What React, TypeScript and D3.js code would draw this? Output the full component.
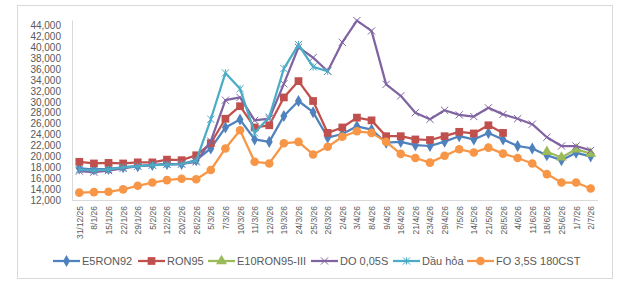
import React, { useEffect, useRef } from 'react';
import * as d3 from 'd3';

const dates = [
  '31/12/25', '8/1/26', '15/1/26', '22/1/26', '29/1/26', '5/2/26', '12/2/26', '20/2/26', '26/2/26',
  '5/3/26', '7/3/26', '10/3/26', '11/3/26', '12/3/26', '19/3/26', '24/3/26', '25/3/26', '26/3/26',
  '2/4/26', '3/4/26', '8/4/26', '9/4/26', '16/4/26', '21/4/26', '23/4/26', '29/4/26', '7/5/26',
  '14/5/26', '21/5/26', '28/5/26', '4/6/26', '11/6/26', '18/6/26', '25/6/26', '1/7/26', '2/7/26',
];

const e5ron92 = [
  17800, 17600, 17700, 18000, 18200, 18400, 18600, 18600, 19300, 21450, 25300, 26750, 23100, 22660, 27400, 30150,
  28100, 23450, 24100, 25500, 24900, 22500, 22660, 22050, 21900, 22700, 23700, 23100, 24300, 23100, 21900, 21450,
  20200, 19300, 20650, 20000,
];
const ron95: (number | null)[] = [
  19000, 18700, 18800, 18700, 18900, 18900, 19400, 19300, 20200, 22400, 26900, 29200, 25300, 25700, 30800, 33800,
  30150, 24300, 25300, 27100, 26600, 23700, 23700, 23100, 23000, 23700, 24500, 24200, 25700, 24300, null, null,
  null, null, null, null,
];
const e10ron95: (number | null)[] = [
  null, null, null, null, null, null, null, null, null, null, null, null, null, null, null, null,
  null, null, null, null, null, null, null, null, null, null, null, null, null, null, null, null,
  20850, 19800, 21300, 20500,
];
const do005s = [
  17300, 17100, 17400, 17800, 18200, 18400, 18600, 18600, 19000, 22800, 30300, 30800, 26600, 26900, 33300, 40000,
  38100, 35600, 40900, 44900, 43000, 33200, 31100, 28000, 26800, 28450, 27600, 27300, 28900, 27700, 26900, 25900,
  23500, 21900, 21900, 21100,
];
const dauHoa: (number | null)[] = [
  17600, 17400, 17600, 18000, 18200, 18400, 18500, 18600, 19200, 26800, 35300, 32400, 24300, 27200, 36100, 40500,
  36400, 35600, null, null, null, null, null, null, null, null, null, null, null, null, null, null,
  null, null, null, null,
];
const fo35s = [
  13350, 13450, 13500, 13950, 14600, 15200, 15650, 15900, 15800, 17500, 21450, 24800, 19000, 18700, 22400, 22660,
  20350, 21750, 23600, 24600, 24300, 22660, 20450, 19700, 18850, 20100, 21300, 20700, 21600, 20500, 19700, 18700,
  16750, 15200, 15200, 14100,
];

const yTicks = d3.range(12000, 44001, 2000);

const series = [
  { name: 'E5RON92', values: e5ron92, color: '#4F81BD', marker: 'diamond' },
  { name: 'RON95', values: ron95, color: '#C0504D', marker: 'square' },
  { name: 'E10RON95-III', values: e10ron95, color: '#9BBB59', marker: 'triangle' },
  { name: 'DO 0,05S', values: do005s, color: '#8064A2', marker: 'x' },
  { name: 'Dầu hỏa', values: dauHoa, color: '#4BACC6', marker: 'star' },
  { name: 'FO 3,5S 180CST', values: fo35s, color: '#F79646', marker: 'circle' },
];

const viLocale = d3.formatLocale({ decimal: ',', thousands: '.', grouping: [3], currency: ['', ''] });
const fmt = viLocale.format(',.3f');

function drawMarker(g: d3.Selection<SVGGElement, unknown, null, undefined>, kind: string, color: string) {
  if (kind === 'diamond') {
    g.append('path').attr('d', d3.symbol(d3.symbolDiamond, 42)()).attr('fill', color);
  } else if (kind === 'square') {
    g.append('path').attr('d', d3.symbol(d3.symbolSquare, 60)()).attr('fill', color);
  } else if (kind === 'triangle') {
    g.append('path').attr('d', d3.symbol(d3.symbolTriangle, 52)()).attr('fill', color);
  } else if (kind === 'circle') {
    g.append('circle').attr('r', 4.3).attr('fill', color);
  } else {
    const s = 3.6;
    g.append('path')
      .attr('d', `M${-s},${-s}L${s},${s}M${-s},${s}L${s},${-s}` + (kind === 'star' ? `M0,${-s}L0,${s}` : ''))
      .attr('stroke', color)
      .attr('stroke-width', 1)
      .attr('fill', 'none');
  }
}

export default function App() {
  const svgRef = useRef<SVGSVGElement>(null);

  useEffect(() => {
    if (!svgRef.current) return;
    const svg = d3.select(svgRef.current);
    svg.selectAll('*').remove();

    const left = 72;
    const right = 598;
    const top = 20;
    const bottom = 200;

    svg.append('rect')
      .attr('x', 0).attr('y', 0).attr('width', 640).attr('height', 283)
      .attr('fill', '#fff');
    svg.append('rect')
      .attr('x', 17.5).attr('y', 5.5).attr('width', 595).attr('height', 273)
      .attr('fill', 'none').attr('stroke', '#d9d9d9');

    const x = d3.scalePoint<string>().domain(dates).range([left, right]).padding(0.5);
    const y = d3.scaleLinear().domain([12000, 45000]).range([bottom, top]);

    // axes
    const yAxis = svg.append('g')
      .attr('transform', `translate(${left},0)`)
      .call(d3.axisLeft(y).tickValues(yTicks).tickSize(0).tickPadding(11).tickFormat(d => fmt(+d / 1000)));
    yAxis.select('.domain').attr('stroke', '#d9d9d9');
    yAxis.selectAll('text')
      .attr('fill', '#595959')
      .style('font-family', '"Liberation Sans", Arial, sans-serif')
      .style('font-size', '10px');

    const xAxis = svg.append('g')
      .attr('transform', `translate(0,${bottom})`)
      .call(d3.axisBottom(x).tickSize(0));
    xAxis.select('.domain').attr('stroke', '#d9d9d9').attr('d', `M${left},0.5H${right}`);
    xAxis.selectAll('text')
      .attr('fill', '#595959')
      .attr('transform', 'rotate(-90)')
      .attr('x', -6)
      .attr('y', 0)
      .attr('dy', '0.35em')
      .style('text-anchor', 'end')
      .style('font-family', '"Liberation Sans", Arial, sans-serif')
      .style('font-size', '8.5px');

    // lines + markers
    series.forEach(s => {
      const pts = s.values.map((v, i) => ({ v, d: dates[i] }));
      const line = d3.line<{ v: number | null; d: string }>()
        .defined(p => p.v != null)
        .x(p => x(p.d) as number)
        .y(p => y(p.v as number));
      svg.append('path')
        .datum(pts)
        .attr('d', line)
        .attr('fill', 'none')
        .attr('stroke', s.color)
        .attr('stroke-width', 2.25)
        .attr('stroke-linejoin', 'round');
      pts.filter(p => p.v != null).forEach(p => {
        const g = svg.append('g').attr('transform', `translate(${x(p.d)},${y(p.v as number)})`);
        drawMarker(g, s.marker, s.color);
      });
    });

    // legend
    const legendX = [53, 138, 208, 311, 393, 467];
    const ly = 261;
    series.forEach((s, i) => {
      const lg = svg.append('g').attr('transform', `translate(${legendX[i]},${ly})`);
      lg.append('line').attr('x1', 0).attr('x2', 27).attr('y1', 0).attr('y2', 0)
        .attr('stroke', s.color).attr('stroke-width', 2.25);
      const m = lg.append('g').attr('transform', 'translate(13.5,0)');
      drawMarker(m, s.marker, s.color);
      lg.append('text')
        .attr('x', 29).attr('y', 0).attr('dy', '0.35em')
        .attr('fill', '#595959')
        .style('font-family', '"Liberation Sans", Arial, sans-serif')
        .style('font-size', '11px')
        .text(s.name);
    });
  }, []);

  return (
    <div style={{ position: 'absolute', left: 0, top: 0, width: 640, height: 283 }}>
      <svg ref={svgRef} width={640} height={283}></svg>
    </div>
  );
}
